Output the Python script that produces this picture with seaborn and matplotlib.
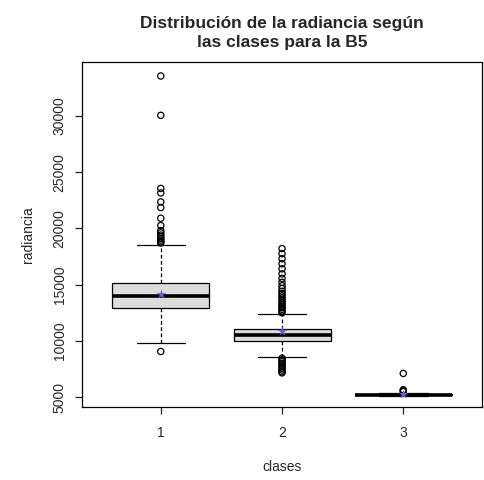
import matplotlib
matplotlib.use("Agg")
import matplotlib.pyplot as plt
import seaborn as sns
import pandas as pd

# five-number summaries per class (whisker low, Q1, median, Q3, whisker high)
clases = ["1", "2", "3"]
whis_lo = [9820, 8600, 5060]
q1 = [12950, 10020, 5170]
mediana = [14020, 10530, 5220]
q3 = [15180, 11070, 5280]
whis_hi = [18550, 12340, 5390]
medias = [14150, 10850, 5300]

# outliers
atipicos_1 = [33550, 30050, 23550, 23150, 22350, 21850, 20900, 20250, 19800,
              19600, 19400, 19250, 19100, 18950, 18800, 18700, 9050]
atipicos_2 = [18200, 17750, 17300, 16850, 16400, 15950, 15550, 15200, 14900,
              14650, 14400, 14200, 14000, 13800, 13600, 13400, 13250, 13100,
              12950, 12800, 12650, 12500, 8450, 8300, 8150, 8000, 7850, 7700,
              7550, 7400, 7250, 7150]
atipicos_3 = [7100, 5650, 5550, 5480]

resumen = pd.DataFrame({
    "clases": [c for c in clases for _ in range(5)],
    "radiancia": [v for i in range(3) for v in
                  (whis_lo[i], q1[i], mediana[i], q3[i], whis_hi[i])],
})
outl = pd.DataFrame({
    "clases": ["1"] * len(atipicos_1) + ["2"] * len(atipicos_2) + ["3"] * len(atipicos_3),
    "radiancia": atipicos_1 + atipicos_2 + atipicos_3,
})
medias_df = pd.DataFrame({"clases": clases, "radiancia": medias})

sns.set_style("ticks")
plt.rcParams["font.family"] = ["Liberation Sans", "DejaVu Sans"]

fig = plt.figure(figsize=(4.85, 4.80), dpi=100)
ax = fig.add_axes([0.169, 0.152, 0.825, 0.719])

sns.boxplot(
    data=resumen, x="clases", y="radiancia", order=clases, whis=(0, 100),
    width=0.8, color="#dcdcdc", linecolor="black", linewidth=0.9,
    showfliers=False, capwidths=0.4,
    medianprops=dict(linewidth=2.6, color="black"),
    whiskerprops=dict(linestyle=(0, (3, 2)), linewidth=0.9),
    capprops=dict(linewidth=0.9),
    ax=ax,
)
sns.stripplot(
    data=outl, x="clases", y="radiancia", order=clases, jitter=False,
    size=4.5, facecolor="none", edgecolor="black", linewidth=0.9, ax=ax,
)
sns.stripplot(
    data=medias_df, x="clases", y="radiancia", order=clases, jitter=False,
    marker="*", size=7, color="#6f5fd0", linewidth=0, ax=ax,
)

ax.set_xlim(-0.65, 2.65)
ax.set_ylim(4110, 34800)
ax.set_yticks([5000, 10000, 15000, 20000, 25000, 30000])
ax.set_yticklabels(["5000", "10000", "15000", "20000", "25000", "30000"],
                   rotation=90, va="center")
for s in ax.spines.values():
    s.set_visible(True)
    s.set_linewidth(0.9)
    s.set_color("black")
ax.tick_params(direction="out", length=5, width=0.9, labelsize=10)
ax.tick_params(axis="x", pad=9)
ax.tick_params(axis="y", pad=6)

ax.set_xlabel("clases", fontsize=10, labelpad=14)
ax.set_ylabel("radiancia", fontsize=10, labelpad=13)
ax.set_title("Distribución de la radiancia según\nlas clases para la B5",
             fontsize=12.5, fontweight="bold", pad=11, linespacing=1.3)

fig.savefig("out.png", dpi=100)
